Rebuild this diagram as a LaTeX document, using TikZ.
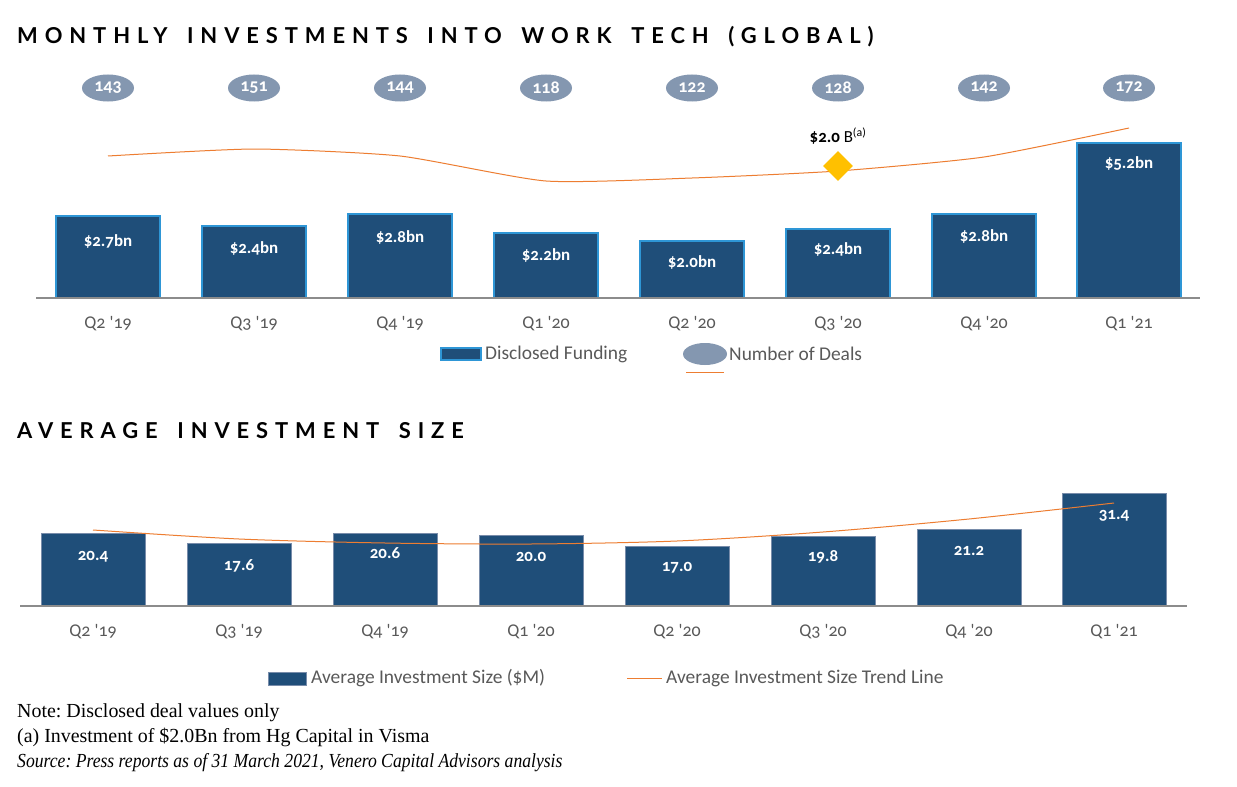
\documentclass[tikz,border=0pt]{standalone}
\usepackage{fontspec}
\usetikzlibrary{shapes.geometric}
\setmainfont{Liberation Serif}
\newfontfamily\noteitfont{Liberation Serif Italic}[FakeStretch=0.885]
\newfontfamily\chartfont{Carlito}[Numbers=OldStyle]
\newfontfamily\titlefont{Lato}[LetterSpace=31.5,WordSpace=1.6]
\definecolor{barblue}{RGB}{31,78,121}
\definecolor{barborder}{RGB}{46,150,214}
\definecolor{bartwoborder}{RGB}{120,140,170}
\definecolor{dealgray}{RGB}{132,151,176}
\definecolor{trend}{RGB}{237,125,49}
\definecolor{gold}{RGB}{255,192,0}
\definecolor{textgray}{RGB}{89,89,89}
\definecolor{axisgray}{RGB}{140,140,140}
\frenchspacing
\begin{document}
\begin{tikzpicture}[x=1bp,y=-1bp,
  barone/.style={draw=barborder, line width=1.6bp, fill=barblue},
  bartwo/.style={draw=bartwoborder, line width=0.8bp, fill=barblue},
  deal/.style={ellipse, fill=dealgray, minimum width=52bp, minimum height=27bp, inner sep=0pt, text=white, font=\chartfont\bfseries\fontsize{18}{18}\selectfont},
  barlabel/.style={text=white, font=\chartfont\bfseries\fontsize{17}{17}\selectfont},
  xlab/.style={text=textgray, font=\chartfont\fontsize{18}{18}\selectfont},
  leg/.style={text=textgray, font=\chartfont\fontsize{19.5}{19.5}\selectfont, anchor=west, inner sep=0pt},
  ttl/.style={anchor=west, inner sep=0pt, font=\titlefont\bfseries\fontsize{22}{22}\selectfont},
  note/.style={anchor=base west, inner sep=0pt, font=\frenchspacing\fontsize{20}{20}\selectfont},
  trendline/.style={draw=trend, line width=1bp},
  axisline/.style={draw=axisgray, line width=1.8bp}]
\useasboundingbox[fill=white] (0,0) rectangle (1237,787);

% ---------- Title 1
\node[ttl] (t1) at (17,37) {MONTHLY INVESTMENTS INTO WORK TECH (GLOBAL)};

% ---------- Top chart: deals ellipses
\foreach \cx/\n [count=\i] in {108/143,254/151,400/144,546/118,692/122,838/128,984/142,1129/172}
  \node[deal] (deal\i) at (\cx,88) {\n};

% bars
\foreach \cx/\top/\ly/\lab [count=\i] in {108/216/241/{\$2.7bn},254/226/248/{\$2.4bn},400/214/237/{\$2.8bn},546/233/255/{\$2.2bn},692/241/262/{\$2.0bn},838/229/249/{\$2.4bn},984/214/236/{\$2.8bn},1129/143/163/{\$5.2bn}}
{
  \path[barone] (\cx-52,\top) rectangle (\cx+52,298);
  \node[barlabel] (blab\i) at (\cx,\ly) {\lab};
}
\draw[axisline] (36,298) -- (1200,298);

% x labels
\foreach \cx/\lab [count=\i] in {108/{Q2 '19},254/{Q3 '19},400/{Q4 '19},546/{Q1 '20},692/{Q2 '20},838/{Q3 '20},984/{Q4 '20},1129/{Q1 '21}}
  \node[xlab] (xa\i) at (\cx,324) {\lab};

% trend line top
\draw[trendline] plot[smooth, tension=0.35] coordinates {(108,156) (254,149) (400,156) (546,181) (692,178) (838,171) (984,157) (1129,128)};

% diamond + label
\node[diamond, fill=gold, minimum width=30bp, minimum height=30bp, inner sep=0pt] (dia) at (838,166) {};
\node[font=\chartfont\fontsize{17}{17}\selectfont, inner sep=0pt] (dialab) at (838,136) {\textbf{\$2.0} B\textsuperscript{(a)}};

% legend top
\path[barone] (441,348) rectangle (481,360);
\node[leg] (lg1) at (485,354) {Disclosed Funding};
\node[ellipse, fill=dealgray, minimum width=44bp, minimum height=22bp, inner sep=0pt] (lgell) at (705,354) {};
\node[leg] (lg2) at (729,354) {Number of Deals};
\coordinate (lo1) at (686,372);
\coordinate (lo2) at (724,372);
\draw[trendline] (lo1) -- (lo2);

% ---------- Title 2
\node[ttl] (t2) at (17,431) {AVERAGE INVESTMENT SIZE};

% bottom bars
\foreach \cx/\top/\ly/\lab [count=\i] in {93/533/557/{20.4},239/543/566/{17.6},385/533/553/{20.6},531/535/557/{20.0},677/546/568/{17.0},823/536/557/{19.8},969/529/551/{21.2},1114/493/516/{31.4}}
{
  \path[bartwo] (\cx-52,\top) rectangle (\cx+52,606);
  \node[barlabel] (clab\i) at (\cx,\ly) {\lab};
}
\draw[axisline] (20,606) -- (1187,606);

\foreach \cx/\lab [count=\i] in {93/{Q2 '19},239/{Q3 '19},385/{Q4 '19},531/{Q1 '20},677/{Q2 '20},823/{Q3 '20},969/{Q4 '20},1114/{Q1 '21}}
  \node[xlab] (xb\i) at (\cx,632) {\lab};

% trend line bottom
\draw[trendline] plot[smooth, tension=0.5] coordinates {(93,530) (239,539) (385,543) (531,544) (677,541) (823,532) (969,519) (1114,503)};

% legend bottom
\path[bartwo] (268,672) rectangle (306,685);
\node[leg] (lg3) at (311,678) {Average Investment Size (\$M)};
\coordinate (lo3) at (627,678);
\coordinate (lo4) at (662,678);
\draw[trendline] (lo3) -- (lo4);
\node[leg] (lg4) at (666,678) {Average Investment Size Trend Line};

% ---------- Notes
\node[note] (n1) at (17,717) {Note: Disclosed deal values only};
\node[note] (n2) at (17,742) {(a) Investment of \$2.0Bn from Hg Capital in Visma};
\node[note, font=\frenchspacing\noteitfont\fontsize{20}{20}\selectfont] (n3) at (17,767) {Source: Press reports as of 31 March 2021, Venero Capital Advisors analysis};
\end{tikzpicture}
\end{document}
